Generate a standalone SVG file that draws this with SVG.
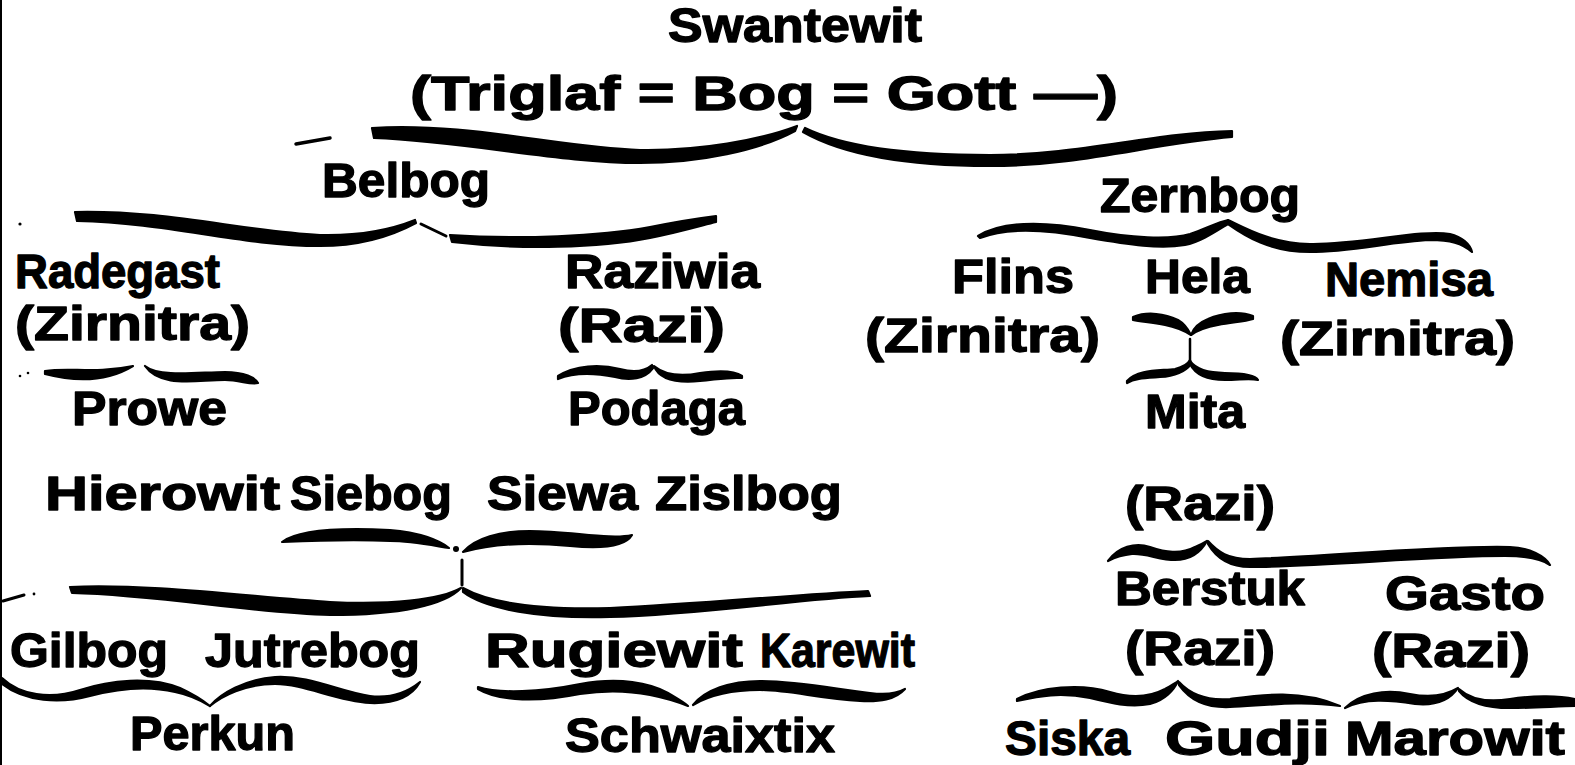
<svg xmlns="http://www.w3.org/2000/svg" width="1575" height="765" viewBox="0 0 1575 765">
<style>
text{font-family:"Liberation Sans","DejaVu Sans",sans-serif;font-weight:700;font-size:48px;fill:#000;stroke:#000;stroke-width:1.3;stroke-linejoin:round}
.b{fill:#000;stroke:#000;stroke-width:2.2;stroke-linejoin:round}
.l{stroke:#000;fill:none;stroke-linecap:round}
</style>
<rect width="1575" height="765" fill="#fff"/>
<line x1="1" y1="0" x2="1" y2="765" stroke="#000" stroke-width="2"/>
<g id="connectors">
<path class="b" d="M372,128 C470,122 560,148 640,150 C700,151 760,140 797,126 L795,131 C760,150 700,163 640,163 C560,163 470,142 374,138 Z"/>
<path class="b" d="M805,128 C840,145 900,155 990,155 C1080,155 1150,133 1232,131 L1232,137 C1150,144 1080,166 990,166 C900,166 840,153 803,132 Z"/>
<path class="l" d="M296,144 L330,138" stroke-width="3.5"/>
<path class="b" d="M75,212 C170,210 240,231 320,235 C360,236 390,230 415,220 L416,223 C390,237 360,246 320,246 C240,246 170,223 77,221 Z"/>
<path class="l" d="M421,224 L446,236" stroke-width="3"/>
<path class="b" d="M450,235 C520,240 600,236 650,227 C680,221 700,218 716,216 L716,222 C700,226 680,232 650,238 C600,248 520,250 452,242 Z"/>
<circle cx="20" cy="224" r="1.6"/>
<path class="b" d="M978,236 C1000,222 1040,220 1090,230 C1130,238 1170,240 1190,234 C1205,229 1218,222 1228,220 L1228,224 C1215,232 1200,242 1185,245 C1160,249 1130,245 1090,238 C1040,228 1005,228 980,238 Z"/>
<path class="b" d="M1228,220 C1245,228 1270,243 1310,244 C1360,245 1420,229 1450,234 C1462,237 1470,244 1472,252 C1462,243 1450,240 1430,240 C1390,242 1350,252 1310,252 C1270,252 1245,236 1228,224 Z"/>
<path class="b" d="M45,371 C70,367 95,374 133,366 C105,383 72,381 45,374 Z"/>
<path class="b" d="M145,366 C160,378 200,372 225,372 C245,372 255,378 258,383 C250,385 240,380 225,380 C195,380 160,388 145,366 Z"/>
<circle cx="20" cy="376" r="1.3"/><circle cx="28" cy="373" r="1.3"/>
<path class="b" d="M558,376 C575,365 600,364 620,369 C635,373 645,371 652,365 L653,368 C645,379 630,381 615,377 C595,373 575,372 558,379 Z"/>
<path class="b" d="M654,366 C665,375 680,377 700,373 C720,370 735,371 742,376 L742,378 C730,377 720,379 700,381 C680,383 660,381 654,366 Z"/>
<path class="b" d="M1133,317 C1148,311 1165,314 1178,320 C1185,324 1188,329 1191,335 C1183,330 1175,327 1165,325 C1152,322 1142,322 1133,320 Z"/>
<path class="b" d="M1253,316 C1240,311 1222,313 1208,319 C1198,323 1193,329 1191,335 C1198,330 1207,327 1218,325 C1232,322 1243,322 1253,319 Z"/>
<path class="l" d="M1190,339 L1190,361" stroke-width="2.5"/>
<path class="b" d="M1127,381 C1138,369 1160,371 1175,369 C1183,367 1188,364 1190,360 L1191,364 C1185,372 1175,376 1160,377 C1145,378 1135,378 1127,383 Z"/>
<path class="b" d="M1190,361 C1195,368 1205,373 1225,373 C1240,373 1255,374 1258,380 C1250,378 1240,380 1225,380 C1205,380 1195,374 1190,364 Z"/>
<path class="b" d="M282,542 C300,528 350,528 390,530 C420,532 440,541 449,548 C430,545 410,541 390,541 C350,539 305,541 282,542 Z"/>
<circle cx="456" cy="549" r="3"/>
<path class="b" d="M463,552 C475,538 500,531 530,531 C570,531 610,540 632,535 C625,547 600,549 570,546 C530,542 495,543 463,552 Z"/>
<path class="l" d="M462,560 L462,585" stroke-width="3"/>
<path class="b" d="M70,587 C150,583 260,598 330,602 C390,605 440,600 461,588 C445,605 400,615 330,615 C250,613 160,595 72,593 Z"/>
<path class="b" d="M463,588 C490,603 540,610 610,608 C700,604 800,594 868,591 L870,596 C800,599 700,615 610,617 C540,619 485,609 463,592 Z"/>
<path class="l" d="M3,601 L24,595" stroke-width="3"/>
<circle cx="34" cy="594" r="1.4"/>
<path class="b" d="M2,678 C20,695 50,700 80,690 C110,680 150,676 180,688 C195,695 205,702 210,706 C200,700 190,695 175,692 C150,686 120,688 90,696 C60,704 25,702 2,684 Z"/>
<path class="b" d="M210,706 C220,694 245,679 275,677 C310,675 340,692 370,696 C395,699 410,690 420,682 C412,696 395,704 370,703 C335,701 305,684 275,684 C245,684 222,696 210,706 Z"/>
<path class="b" d="M478,687 C500,694 540,692 580,684 C620,677 650,683 668,693 C678,699 685,703 688,706 C678,702 665,698 650,695 C625,690 605,690 580,694 C540,702 500,702 478,689 Z"/>
<path class="b" d="M693,705 C705,690 730,681 760,681 C800,681 840,690 870,693 C885,695 898,693 905,689 C895,700 880,702 860,701 C820,699 790,690 760,690 C735,690 710,695 693,705 Z"/>
<path class="b" d="M1108,561 C1118,547 1135,542 1150,547 C1165,552 1180,555 1195,547 C1200,545 1204,543 1207,541 C1202,550 1192,560 1175,560 C1160,560 1145,553 1132,554 C1122,555 1114,558 1108,561 Z"/>
<path class="b" d="M1208,541 C1218,552 1228,559 1250,559 C1320,557 1440,545 1510,547 C1530,548 1545,556 1550,565 C1540,558 1525,556 1505,556 C1430,556 1320,567 1250,567 C1228,567 1215,556 1208,544 Z"/>
<path class="b" d="M1017,699 C1040,687 1080,683 1110,692 C1130,698 1150,697 1165,689 C1172,685 1176,683 1178,681 C1174,690 1165,700 1150,704 C1130,708 1110,703 1090,698 C1060,692 1040,696 1017,701 Z"/>
<path class="b" d="M1179,682 C1190,694 1205,701 1230,699 C1260,695 1300,689 1340,706 C1300,700 1260,706 1230,707 C1205,708 1190,700 1179,685 Z"/>
<path class="b" d="M1345,708 C1360,693 1385,689 1410,694 C1430,698 1445,696 1458,688 C1450,700 1435,706 1415,704 C1390,700 1365,698 1345,708 Z"/>
<path class="b" d="M1459,689 C1470,699 1485,703 1510,699 C1535,695 1560,696 1575,699 L1575,706 C1560,706 1535,708 1510,708 C1485,708 1468,702 1459,691 Z"/>
</g>
<g id="n-swantewit"><text x="668" y="42" textLength="254" lengthAdjust="spacingAndGlyphs">Swantewit</text></g>
<g id="n-triglaf"><text x="410" y="110" textLength="708" lengthAdjust="spacingAndGlyphs">(Triglaf = Bog = Gott —)</text></g>
<g id="n-belbog"><text x="322" y="197" textLength="168" lengthAdjust="spacingAndGlyphs">Belbog</text></g>
<g id="n-zernbog"><text x="1100" y="212" textLength="200" lengthAdjust="spacingAndGlyphs">Zernbog</text></g>
<g id="n-radegast">
<text x="15" y="288" textLength="205" lengthAdjust="spacingAndGlyphs">Radegast</text>
<text x="15" y="340" textLength="235" lengthAdjust="spacingAndGlyphs">(Zirnitra)</text>
</g>
<g id="n-prowe"><text x="72" y="425" textLength="155" lengthAdjust="spacingAndGlyphs">Prowe</text></g>
<g id="n-raziwia">
<text x="565" y="288" textLength="195" lengthAdjust="spacingAndGlyphs">Raziwia</text>
<text x="558" y="342" textLength="167" lengthAdjust="spacingAndGlyphs">(Razi)</text>
</g>
<g id="n-podaga"><text x="568" y="425" textLength="177" lengthAdjust="spacingAndGlyphs">Podaga</text></g>
<g id="n-flins">
<text x="952" y="293" textLength="122" lengthAdjust="spacingAndGlyphs">Flins</text>
<text x="865" y="352" textLength="235" lengthAdjust="spacingAndGlyphs">(Zirnitra)</text>
</g>
<g id="n-hela"><text x="1145" y="293" textLength="105" lengthAdjust="spacingAndGlyphs">Hela</text></g>
<g id="n-nemisa">
<text x="1325" y="296" textLength="168" lengthAdjust="spacingAndGlyphs">Nemisa</text>
<text x="1280" y="355" textLength="235" lengthAdjust="spacingAndGlyphs">(Zirnitra)</text>
</g>
<g id="n-mita"><text x="1145" y="428" textLength="100" lengthAdjust="spacingAndGlyphs">Mita</text></g>
<g id="n-hierowit"><text x="45" y="510" textLength="235" lengthAdjust="spacingAndGlyphs">Hierowit</text></g>
<g id="n-siebog"><text x="290" y="510" textLength="162" lengthAdjust="spacingAndGlyphs">Siebog</text></g>
<g id="n-siewa"><text x="487" y="510" textLength="151" lengthAdjust="spacingAndGlyphs">Siewa</text></g>
<g id="n-zislbog"><text x="655" y="510" textLength="187" lengthAdjust="spacingAndGlyphs">Zislbog</text></g>
<g id="n-gilbog"><text x="10" y="667" textLength="158" lengthAdjust="spacingAndGlyphs">Gilbog</text></g>
<g id="n-jutrebog"><text x="205" y="667" textLength="215" lengthAdjust="spacingAndGlyphs">Jutrebog</text></g>
<g id="n-rugiewit"><text x="485" y="667" textLength="258" lengthAdjust="spacingAndGlyphs">Rugiewit</text></g>
<g id="n-karewit"><text x="760" y="667" textLength="155" lengthAdjust="spacingAndGlyphs">Karewit</text></g>
<g id="n-perkun"><text x="130" y="750" textLength="165" lengthAdjust="spacingAndGlyphs">Perkun</text></g>
<g id="n-schwaixtix"><text x="565" y="752" textLength="270" lengthAdjust="spacingAndGlyphs">Schwaixtix</text></g>
<g id="n-razi"><text x="1125" y="520" textLength="150" lengthAdjust="spacingAndGlyphs">(Razi)</text></g>
<g id="n-berstuk">
<text x="1115" y="605" textLength="190" lengthAdjust="spacingAndGlyphs">Berstuk</text>
<text x="1125" y="665" textLength="150" lengthAdjust="spacingAndGlyphs">(Razi)</text>
</g>
<g id="n-gasto">
<text x="1385" y="610" textLength="160" lengthAdjust="spacingAndGlyphs">Gasto</text>
<text x="1372" y="667" textLength="158" lengthAdjust="spacingAndGlyphs">(Razi)</text>
</g>
<g id="n-siska"><text x="1005" y="755" textLength="125" lengthAdjust="spacingAndGlyphs">Siska</text></g>
<g id="n-gudji"><text x="1165" y="755" textLength="165" lengthAdjust="spacingAndGlyphs">Gudji</text></g>
<g id="n-marowit"><text x="1345" y="755" textLength="220" lengthAdjust="spacingAndGlyphs">Marowit</text></g>
</svg>
